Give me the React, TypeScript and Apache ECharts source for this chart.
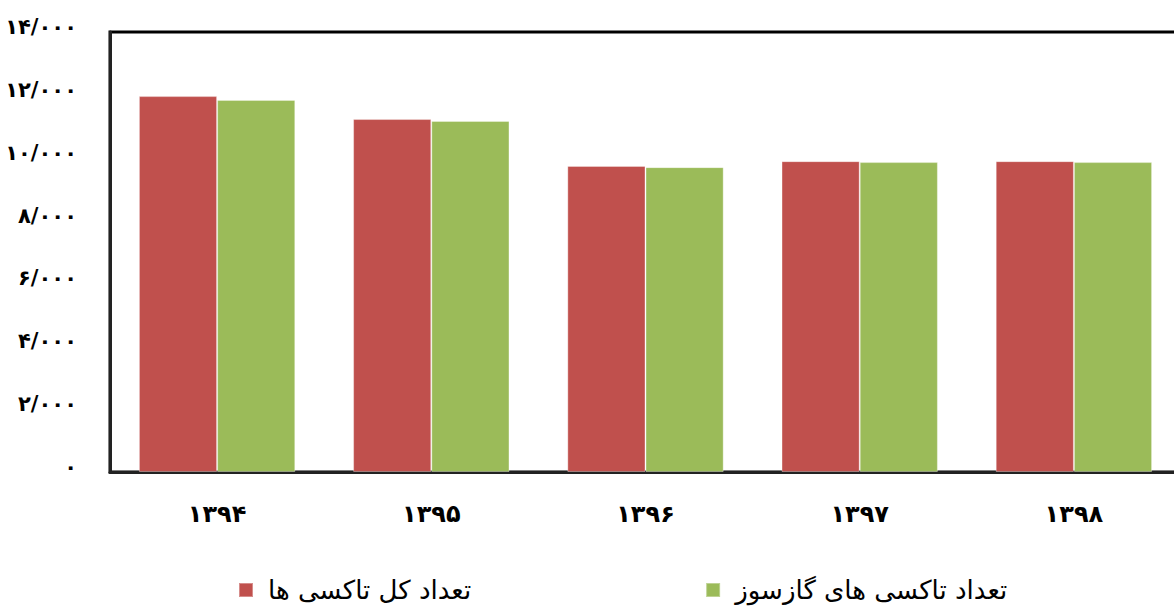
import React, { useEffect, useRef } from "react";
import * as echarts from "echarts";

const categories = ["۱۳۹۴", "۱۳۹۵", "۱۳۹۶", "۱۳۹۷", "۱۳۹۸"];
const totalTaxis = [11960, 11230, 9740, 9890, 9890];
const gasTaxis = [11840, 11170, 9700, 9860, 9860];
const seriesNames = ["تعداد کل تاکسی ها", "تعداد تاکسی های گازسوز"];
const yMin = 0;
const yMax = 14000;
const yStep = 2000;

const persianDigits = "۰۱۲۳۴۵۶۷۸۹";
function toPersian(n: number): string {
  const s = n >= 1000 ? Math.floor(n / 1000) + "/" + String(n % 1000).padStart(3, "0") : String(n);
  return s.replace(/[0-9]/g, (d) => persianDigits[Number(d)]);
}

export default function App() {
  const ref = useRef<HTMLDivElement>(null);
  useEffect(() => {
    if (!ref.current) return;
    const chart = echarts.init(ref.current, undefined, { renderer: "svg" });
    chart.setOption({
      animation: false,
      backgroundColor: "#ffffff",
      grid: {
        left: 110,
        right: 0,
        top: 32,
        bottom: 138,
        show: true,
        borderColor: "#000",
        borderWidth: 3,
      },
      legend: {
        left: 238,
        top: 577,
        padding: 0,
        itemWidth: 14,
        itemHeight: 14,
        itemGap: 234,
        icon: "rect",
        textStyle: {
          fontFamily: "DejaVu Sans",
          fontSize: 26,
          color: "#000",
          padding: [0, 0, 0, 10],
        },
        data: seriesNames,
      },
      xAxis: {
        type: "category",
        data: categories,
        axisLine: { show: true, lineStyle: { color: "#222", width: 3 } },
        axisTick: { show: false },
        axisLabel: {
          margin: 30,
          fontFamily: "DejaVu Sans",
          fontWeight: "bold",
          fontSize: 24,
          color: "#000",
        },
      },
      yAxis: {
        type: "value",
        min: yMin,
        max: yMax,
        interval: yStep,
        axisLine: { show: true, lineStyle: { color: "#222", width: 3 } },
        axisTick: { show: false },
        splitLine: { show: false },
        axisLabel: {
          margin: 33,
          fontFamily: "DejaVu Sans",
          fontWeight: "bold",
          fontSize: 21,
          color: "#000",
          verticalAlign: "bottom",
          lineHeight: 10,
          formatter: (v: number) => toPersian(v),
        },
      },
      series: [
        {
          name: seriesNames[0],
          type: "bar",
          data: totalTaxis,
          barGap: "0%",
          barCategoryGap: "27%",
          itemStyle: { color: "#C0504D", borderColor: "rgba(255,255,255,0.35)", borderWidth: 1 },
        },
        {
          name: seriesNames[1],
          type: "bar",
          data: gasTaxis,
          barGap: "0%",
          barCategoryGap: "27%",
          itemStyle: { color: "#9BBB59", borderColor: "rgba(255,255,255,0.35)", borderWidth: 1 },
        },
      ],
    });
    return () => chart.dispose();
  }, []);
  return (
    <div
      style={{ position: "absolute", left: 0, top: 0, width: 1174, height: 610, overflow: "hidden" }}
    >
      <div ref={ref} style={{ width: 1181, height: 610 }} />
    </div>
  );
}
